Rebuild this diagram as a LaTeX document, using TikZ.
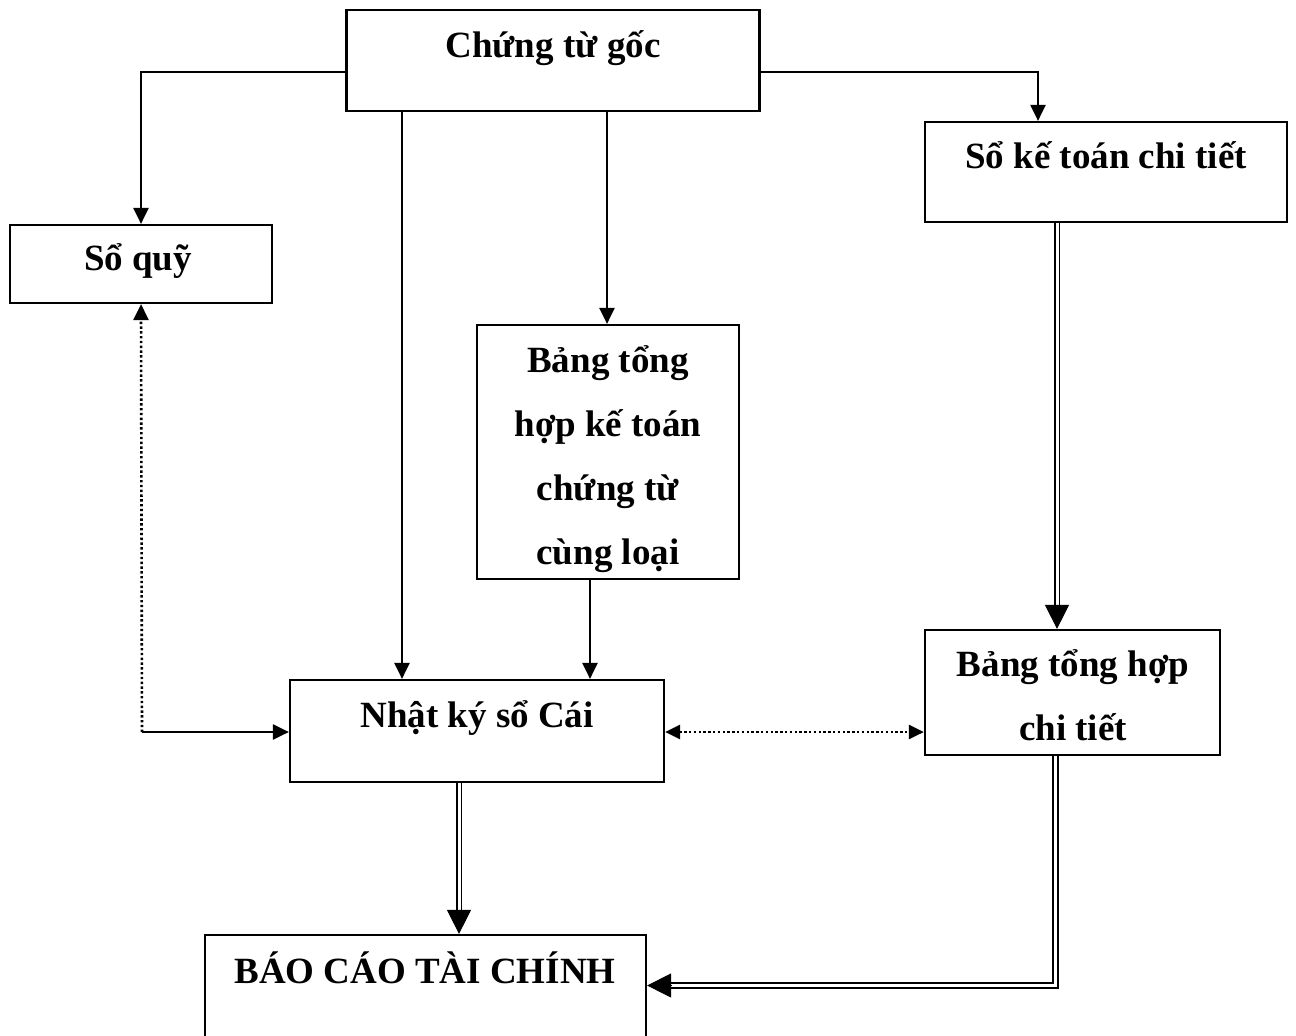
\documentclass[tikz,border=0pt]{standalone}
\usepackage{fontspec}
\setmainfont{Liberation Serif}
\usetikzlibrary{arrows.meta,calc}

\tikzset{
  box/.style={draw, line width=2.2pt, rectangle, inner sep=0pt, fill=white},
  lbl/.style={font=\fontsize{37}{64}\selectfont\bfseries, anchor=base, align=center, inner sep=0pt},
  arr/.style={line width=2.2pt, -{Triangle[length=16pt,width=15pt]}},
  dotline/.style={line width=2.6pt, dash pattern=on 2.4pt off 2.4pt},
  dotarr/.style={dotline, {Triangle[length=15pt,width=14pt]}-{Triangle[length=15pt,width=14pt]}},
  dbl/.style={double, double distance=3pt, line width=1.9pt},
  bigtip/.style={line width=1pt, -{Triangle[length=24pt,width=24pt]}},
}

\begin{document}
\begin{tikzpicture}[x=1pt, y=-1pt]
\useasboundingbox (0,0) rectangle (1296,1036);

% boxes
\node[box, minimum width=413pt, minimum height=101pt] (cg) at (553,60.5) {};
\node[box, minimum width=362pt, minimum height=100pt] (sk) at (1106,172) {};
\node[box, minimum width=262pt, minimum height=78pt]  (sq) at (141,264) {};
\node[box, minimum width=262pt, minimum height=254pt] (bt) at (608,452) {};
\node[box, minimum width=374pt, minimum height=102pt] (nk) at (477,731) {};
\node[box, minimum width=295pt, minimum height=125pt] (bh) at (1072.5,692.5) {};
\node[box, minimum width=441pt, minimum height=115pt] (bc) at (425.5,992.5) {};

% labels (base anchor sits on the last line)
\node[lbl] (cgt) at (553,57)  {Chứng từ gốc};
\node[lbl] (skt) at (1106,168) {Sổ kế toán chi tiết};
\node[lbl] (sqt) at (138,270) {Sổ quỹ};
\node[lbl] (btt) at (608,564) {Bảng tổng\\hợp kế toán\\chứng từ\\cùng loại};
\node[lbl] (nkt) at (477,727) {Nhật ký sổ Cái};
\node[lbl] (bht) at (1073,740) {Bảng tổng hợp\\chi tiết};
\node[lbl] (bct) at (425,983) {BÁO CÁO TÀI CHÍNH};

% helper coordinates for connector positions
\coordinate (yTop) at (0,72);
\coordinate (xSk)  at (1038,0);
\coordinate (xNk)  at (402,0);
\coordinate (xBt)  at (607,0);
\coordinate (xBtD) at (590,0);
\coordinate (ySide) at (0,732);
\coordinate (xSkD) at (1057,0);
\coordinate (xNkD) at (459,0);
\coordinate (xBhD) at (1055.5,0);
\coordinate (yBc)  at (0,985.5);
\coordinate (corner) at (142,732);

% single arrows from the source documents
\draw[arr] (cg.west |- yTop) -| (sq.north);
\draw[arr] (cg.east |- yTop) -| (sk.north -| xSk);
\draw[arr] (cg.south -| xNk) -- (nk.north -| xNk);
\draw[arr] (cg.south -| xBt) -- (bt.north -| xBt);
\draw[arr] (bt.south -| xBtD) -- (nk.north -| xBtD);

% cross-checks (dotted)
\draw[dotline, -{Triangle[length=16pt,width=15pt]}] (corner) -- (sq.south);
\draw[arr] (corner) -- (nk.west |- corner);
\draw[dotarr] (nk.east |- ySide) -- (bh.west |- ySide);

% summary flows (double lines)
\draw[dbl, shorten >=20pt] (sk.south -| xSkD) -- (bh.north -| xSkD);
\draw[bigtip] ([yshift=24pt]bh.north -| xSkD) -- (bh.north -| xSkD);

\draw[dbl, shorten >=20pt] (nk.south -| xNkD) -- (bc.north -| xNkD);
\draw[bigtip] ([yshift=24pt]bc.north -| xNkD) -- (bc.north -| xNkD);

\draw[dbl, shorten >=20pt] (bh.south -| xBhD) |- (bc.east |- yBc);
\draw[bigtip] ([xshift=24pt]bc.east |- yBc) -- (bc.east |- yBc);
\end{tikzpicture}
\end{document}
